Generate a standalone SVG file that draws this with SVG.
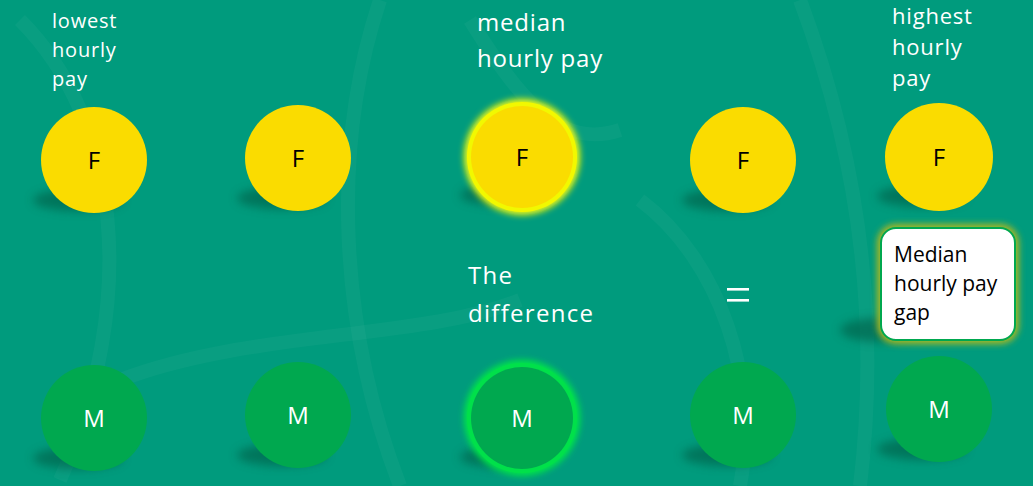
<svg xmlns="http://www.w3.org/2000/svg" width="1033" height="486" viewBox="0 0 1033 486">
<defs>
<filter id="sh" x="-50%" y="-100%" width="200%" height="300%"><feGaussianBlur stdDeviation="5"/></filter>
<filter id="gl" x="-30%" y="-30%" width="160%" height="160%"><feGaussianBlur stdDeviation="3"/></filter>
<style>
.lbl{font-family:"Open Sans","Liberation Sans",sans-serif;fill:#ffffff;letter-spacing:0.8px}
.f{fill:#FADC00}
.m{fill:#00A84F}
.sh{fill:#00573F;opacity:0.55;filter:url(#sh)}
.ft{font-family:"Open Sans","Liberation Sans",sans-serif;font-size:24px;fill:#000;text-anchor:middle}
.mt{font-family:"Open Sans","Liberation Sans",sans-serif;font-size:24px;fill:#fff;text-anchor:middle}
</style>
</defs>
<rect width="1033" height="486" fill="#009B7D"/>
<g fill="none" stroke="#ffffff" stroke-opacity="0.035" stroke-width="14">
<path d="M20 20 C 120 120, 140 300, 60 480"/>
<path d="M380 0 C 330 150, 340 330, 400 486"/>
<path d="M470 20 C 520 100, 560 150, 620 130"/>
<path d="M640 200 C 720 260, 760 380, 740 486"/>
<path d="M800 0 C 860 160, 880 320, 860 486"/>
<path d="M120 380 C 250 330, 420 340, 520 300"/>
</g>
<g id="labels">
<text class="lbl" font-size="20"><tspan x="52" y="28">lowest</tspan><tspan x="52" y="57">hourly</tspan><tspan x="52" y="86">pay</tspan></text>
<text class="lbl" font-size="24"><tspan x="477" y="31">median</tspan><tspan x="477" y="67">hourly pay</tspan></text>
<text class="lbl" font-size="22"><tspan x="892" y="24">highest</tspan><tspan x="892" y="55">hourly</tspan><tspan x="892" y="86">pay</tspan></text>
<text class="lbl" font-size="24" style="letter-spacing:1.3px"><tspan x="468" y="284">The</tspan><tspan x="468" y="322">difference</tspan></text>
<g fill="#ffffff"><rect x="727" y="288" width="22" height="2.6"/><rect x="727" y="299" width="22" height="2.6"/></g>
</g>
<g id="connectors"></g>
<g id="f1"><ellipse class="sh" cx="78" cy="200" rx="45" ry="11"/><circle class="f" cx="94" cy="160" r="53"/><text class="ft" x="94" y="169">F</text></g>
<g id="f2"><ellipse class="sh" cx="282" cy="198" rx="45" ry="11"/><circle class="f" cx="298" cy="158" r="53"/><text class="ft" x="298" y="167">F</text></g>
<g id="f3"><ellipse class="sh" cx="505" cy="195" rx="45" ry="11"/><circle cx="522" cy="157" r="58" fill="#F0FA10" filter="url(#gl)"/><circle cx="522" cy="157" r="55" fill="#F2F800"/><circle class="f" cx="522" cy="157" r="51"/><text class="ft" x="522" y="166">F</text></g>
<g id="f4"><ellipse class="sh" cx="727" cy="200" rx="45" ry="11"/><circle class="f" cx="743" cy="160" r="53"/><text class="ft" x="743" y="169">F</text></g>
<g id="f5"><ellipse class="sh" cx="922" cy="196" rx="45" ry="11"/><circle class="f" cx="939" cy="157" r="54"/><text class="ft" x="939" y="166">F</text></g>
<g id="box"><ellipse class="sh" cx="880" cy="330" rx="40" ry="12"/><rect x="877" y="224" width="142" height="120" rx="19" fill="#A8B820" filter="url(#gl)"/><rect x="881" y="228" width="134" height="112" rx="15" fill="#ffffff" stroke="#00A84F" stroke-width="2"/>
<text font-family="'Open Sans','Liberation Sans',sans-serif" font-size="21" fill="#000"><tspan x="894" y="262">Median</tspan><tspan x="894" y="291">hourly pay</tspan><tspan x="894" y="320">gap</tspan></text></g>
<g id="m1"><ellipse class="sh" cx="78" cy="458" rx="45" ry="11"/><circle class="m" cx="94" cy="418" r="53"/><text class="mt" x="94" y="427">M</text></g>
<g id="m2"><ellipse class="sh" cx="282" cy="455" rx="45" ry="11"/><circle class="m" cx="298" cy="415" r="53"/><text class="mt" x="298" y="424">M</text></g>
<g id="m3"><ellipse class="sh" cx="505" cy="457" rx="45" ry="11"/><circle cx="522" cy="418" r="58" fill="#00E64A" filter="url(#gl)"/><circle cx="522" cy="418" r="55" fill="#00E04A"/><circle class="m" cx="522" cy="418" r="51"/><text class="mt" x="522" y="427">M</text></g>
<g id="m4"><ellipse class="sh" cx="727" cy="455" rx="45" ry="11"/><circle class="m" cx="743" cy="415" r="53"/><text class="mt" x="743" y="424">M</text></g>
<g id="m5"><ellipse class="sh" cx="922" cy="449" rx="45" ry="11"/><circle class="m" cx="939" cy="409" r="53"/><text class="mt" x="939" y="418">M</text></g>
</svg>
